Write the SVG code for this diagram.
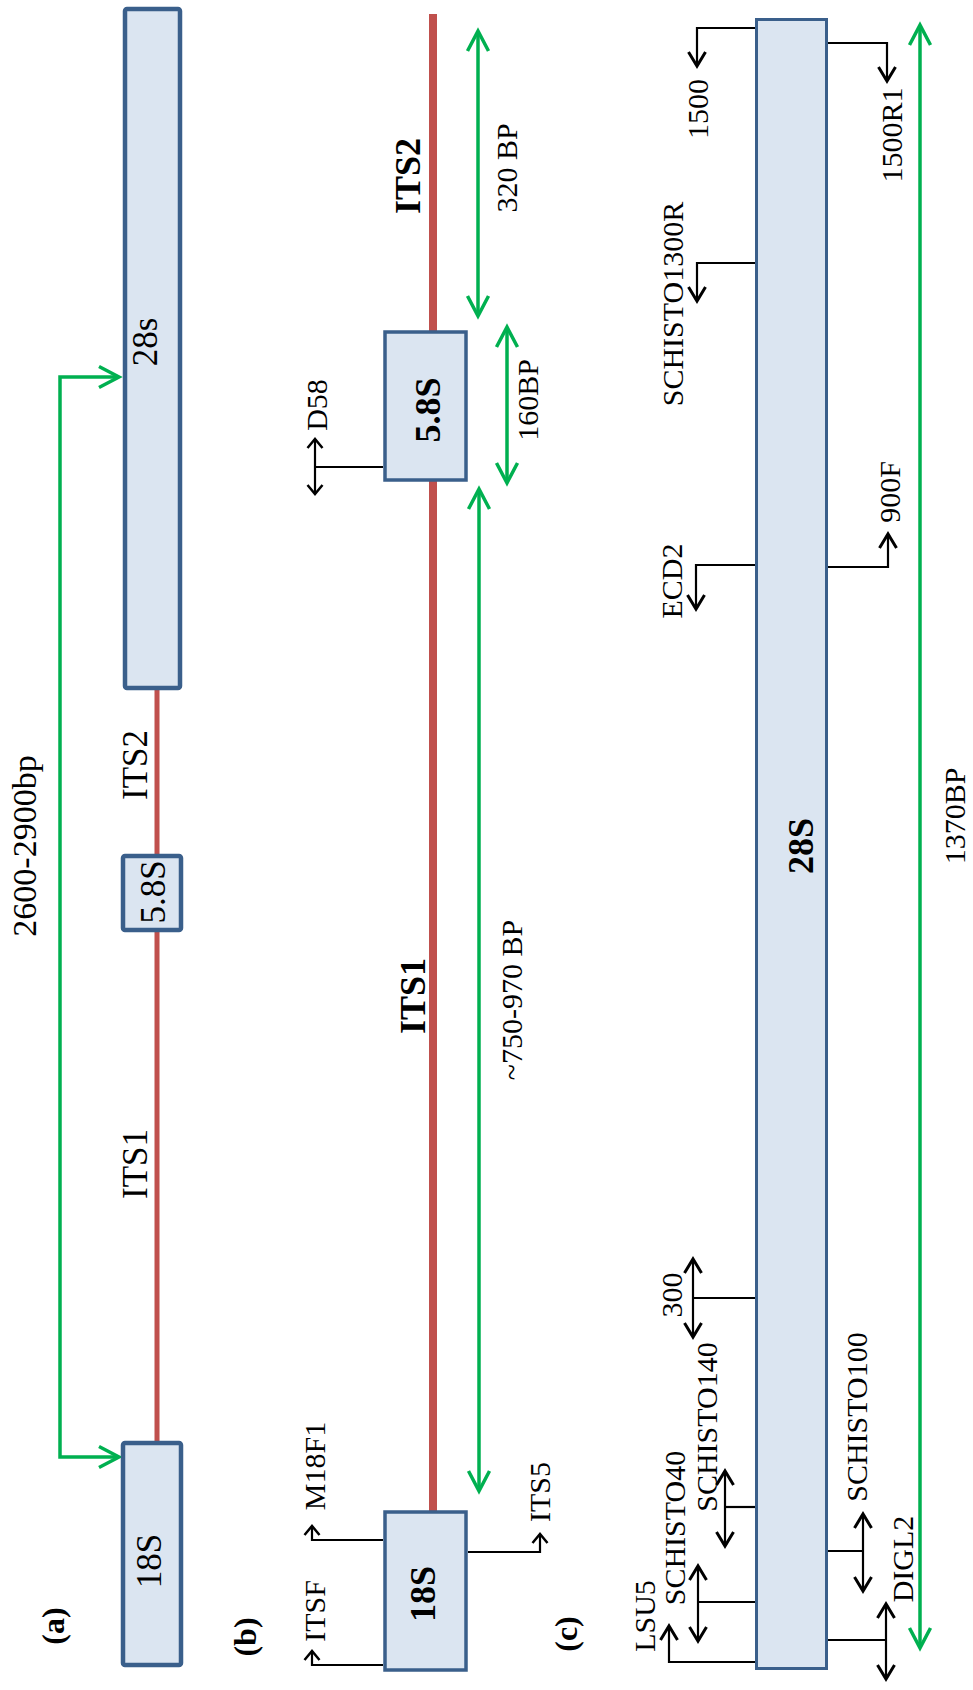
<svg xmlns="http://www.w3.org/2000/svg" width="973" height="1690" viewBox="0 0 973 1690">
<style>
.box{fill:#DBE5F1;stroke:#3A5F8B}
.t{font-family:"Liberation Serif","Times New Roman",serif;fill:#000}
.p{font-size:30px}
.b{font-weight:bold}
.rna{stroke:#C0504D;fill:none}
.g{stroke:#00B050;stroke-width:3.5;fill:none}
.k{stroke:#000;stroke-width:2.2;fill:none}
</style>
<defs>
<marker id="ga" markerUnits="userSpaceOnUse" orient="auto-start-reverse" refX="0" refY="0" markerWidth="30" markerHeight="30" viewBox="-25 -15 30 30" overflow="visible">
<path d="M-20,-10.5 L0,0 L-20,10.5" fill="none" stroke="#00B050" stroke-width="3.5"/>
</marker>
<marker id="ks" markerUnits="userSpaceOnUse" orient="auto-start-reverse" refX="0" refY="0" markerWidth="20" markerHeight="20" viewBox="-15 -10 20 20" overflow="visible">
<path d="M-9,-7.5 L0,0 L-9,7.5" fill="none" stroke="#000" stroke-width="2.5"/>
</marker>
<marker id="kl" markerUnits="userSpaceOnUse" orient="auto-start-reverse" refX="0" refY="0" markerWidth="24" markerHeight="24" viewBox="-20 -12 24 24" overflow="visible">
<path d="M-14,-8.5 L0,0 L-14,8.5" fill="none" stroke="#000" stroke-width="3"/>
</marker>
</defs>

<g id="connectors">
<!-- panel a -->
<line class="rna" stroke-width="5" x1="157" y1="688" x2="157" y2="856"/>
<line class="rna" stroke-width="5" x1="157" y1="930" x2="157" y2="1443"/>
<path class="g" d="M119,377 H60 V1457 H119" marker-start="url(#ga)" marker-end="url(#ga)"/>
<!-- panel b -->
<line class="rna" stroke-width="8" x1="433" y1="14" x2="433" y2="332"/>
<line class="rna" stroke-width="8" x1="433" y1="480" x2="433" y2="1512"/>
<line class="g" x1="478" y1="31" x2="478" y2="316" marker-start="url(#ga)" marker-end="url(#ga)"/>
<line class="g" x1="507" y1="327" x2="507" y2="483" marker-start="url(#ga)" marker-end="url(#ga)"/>
<line class="g" x1="479" y1="489" x2="479" y2="1491" marker-start="url(#ga)" marker-end="url(#ga)"/>
<path class="k" d="M383,1665 H312 V1651" marker-end="url(#ks)"/>
<path class="k" d="M383,1540 H312 V1526" marker-end="url(#ks)"/>
<path class="k" d="M468,1552 H540 V1534" marker-end="url(#ks)"/>
<line class="k" x1="383" y1="467" x2="315" y2="467"/>
<line class="k" stroke-width="2.5" x1="315" y1="439" x2="315" y2="494" marker-start="url(#ks)" marker-end="url(#ks)"/>
<!-- panel c -->
<line class="g" x1="920" y1="25" x2="920" y2="1648" marker-start="url(#ga)" marker-end="url(#ga)"/>
<path class="k" stroke-width="2.5" d="M755,28 H697 V66" marker-end="url(#kl)"/>
<path class="k" stroke-width="2.5" d="M755,263 H697 V301" marker-end="url(#kl)"/>
<path class="k" stroke-width="2.5" d="M755,565 H696 V609" marker-end="url(#kl)"/>
<line class="k" stroke-width="2.5" x1="755" y1="1298" x2="693" y2="1298"/>
<line class="k" stroke-width="2.5" x1="693" y1="1259" x2="693" y2="1337" marker-start="url(#kl)" marker-end="url(#kl)"/>
<line class="k" stroke-width="2.5" x1="755" y1="1507" x2="725" y2="1507"/>
<line class="k" stroke-width="2.5" x1="725" y1="1471" x2="725" y2="1546" marker-start="url(#kl)" marker-end="url(#kl)"/>
<line class="k" stroke-width="2.5" x1="755" y1="1602" x2="698" y2="1602"/>
<line class="k" stroke-width="2.5" x1="698" y1="1566" x2="698" y2="1641" marker-start="url(#kl)" marker-end="url(#kl)"/>
<path class="k" stroke-width="2.5" d="M755,1662 H669 V1626" marker-end="url(#kl)"/>
<path class="k" stroke-width="2.5" d="M828,43 H887 V81" marker-end="url(#kl)"/>
<path class="k" stroke-width="2.5" d="M828,567 H888 V534" marker-end="url(#kl)"/>
<line class="k" stroke-width="2.5" x1="828" y1="1551" x2="863" y2="1551"/>
<line class="k" stroke-width="2.5" x1="863" y1="1514" x2="863" y2="1591" marker-start="url(#kl)" marker-end="url(#kl)"/>
<line class="k" stroke-width="2.5" x1="828" y1="1640" x2="886" y2="1640"/>
<line class="k" stroke-width="2.5" x1="886" y1="1604" x2="886" y2="1679" marker-start="url(#kl)" marker-end="url(#kl)"/>
</g>

<g id="a-28s"><rect class="box" stroke-width="4.5" x="125" y="9" width="55" height="679" rx="2"/>
<text class="t" font-size="35" transform="translate(157,342) rotate(-90)" text-anchor="middle">28s</text></g>
<g id="a-58s"><rect class="box" stroke-width="4.5" x="123" y="856" width="58" height="74" rx="2"/>
<text class="t" font-size="35" transform="translate(165,892) rotate(-90)" text-anchor="middle">5.8S</text></g>
<g id="a-18s"><rect class="box" stroke-width="4.5" x="123" y="1443" width="58" height="222" rx="2"/>
<text class="t" font-size="35" transform="translate(161,1561) rotate(-90)" text-anchor="middle">18S</text></g>
<g id="a-labels">
<text class="t b" font-size="32" transform="translate(64,1626) rotate(-90)" text-anchor="middle">(a)</text>
<text class="t" font-size="35" transform="translate(147,765) rotate(-90)" text-anchor="middle">ITS2</text>
<text class="t" font-size="35" transform="translate(147,1164) rotate(-90)" text-anchor="middle">ITS1</text>
<text class="t" font-size="34" transform="translate(36,846) rotate(-90)" text-anchor="middle">2600-2900bp</text>
</g>

<g id="b-58s"><rect class="box" stroke-width="3.5" x="385" y="332" width="81" height="148"/>
<text class="t b" font-size="36" transform="translate(440,410) rotate(-90)" text-anchor="middle">5.8S</text></g>
<g id="b-18s"><rect class="box" stroke-width="3.5" x="385" y="1512" width="81" height="158"/>
<text class="t b" font-size="36" transform="translate(435,1594) rotate(-90)" text-anchor="middle">18S</text></g>
<g id="b-labels">
<text class="t b" font-size="32" transform="translate(256,1637) rotate(-90)" text-anchor="middle">(b)</text>
<text class="t p" transform="translate(325,1611) rotate(-90)" text-anchor="middle">ITSF</text>
<text class="t p" transform="translate(325,1466) rotate(-90)" text-anchor="middle">M18F1</text>
<text class="t p" transform="translate(550,1492) rotate(-90)" text-anchor="middle">ITS5</text>
<text class="t p" transform="translate(327,405) rotate(-90)" text-anchor="middle">D58</text>
<text class="t p" transform="translate(538,400) rotate(-90)" text-anchor="middle">160BP</text>
<text class="t b" font-size="36" transform="translate(420,176) rotate(-90)" text-anchor="middle">ITS2</text>
<text class="t p" transform="translate(517,168) rotate(-90)" text-anchor="middle">320 BP</text>
<text class="t b" font-size="36" transform="translate(425,996) rotate(-90)" text-anchor="middle">ITS1</text>
<text class="t p" transform="translate(522,1000) rotate(-90)" text-anchor="middle">~750-970 BP</text>
</g>

<g id="c-28s"><rect class="box" stroke-width="3" x="756.5" y="19.5" width="70" height="1649"/>
<text class="t b" font-size="36" transform="translate(813,846) rotate(-90)" text-anchor="middle">28S</text></g>
<g id="c-labels">
<text class="t b" font-size="32" transform="translate(577,1634) rotate(-90)" text-anchor="middle">(c)</text>
<text class="t p" transform="translate(708,109) rotate(-90)" text-anchor="middle">1500</text>
<text class="t p" transform="translate(902,135) rotate(-90)" text-anchor="middle">1500R1</text>
<text class="t p" transform="translate(683,304) rotate(-90)" text-anchor="middle">SCHISTO1300R</text>
<text class="t p" transform="translate(900,492) rotate(-90)" text-anchor="middle">900F</text>
<text class="t p" transform="translate(682,581) rotate(-90)" text-anchor="middle">ECD2</text>
<text class="t p" transform="translate(965,816) rotate(-90)" text-anchor="middle">1370BP</text>
<text class="t p" transform="translate(682,1295) rotate(-90)" text-anchor="middle">300</text>
<text class="t p" transform="translate(717,1427) rotate(-90)" text-anchor="middle">SCHISTO140</text>
<text class="t p" transform="translate(685,1528) rotate(-90)" text-anchor="middle">SCHISTO40</text>
<text class="t p" transform="translate(655,1616) rotate(-90)" text-anchor="middle">LSU5</text>
<text class="t p" transform="translate(867,1417) rotate(-90)" text-anchor="middle">SCHISTO100</text>
<text class="t p" transform="translate(913,1559) rotate(-90)" text-anchor="middle">DIGL2</text>
</g>
</svg>
